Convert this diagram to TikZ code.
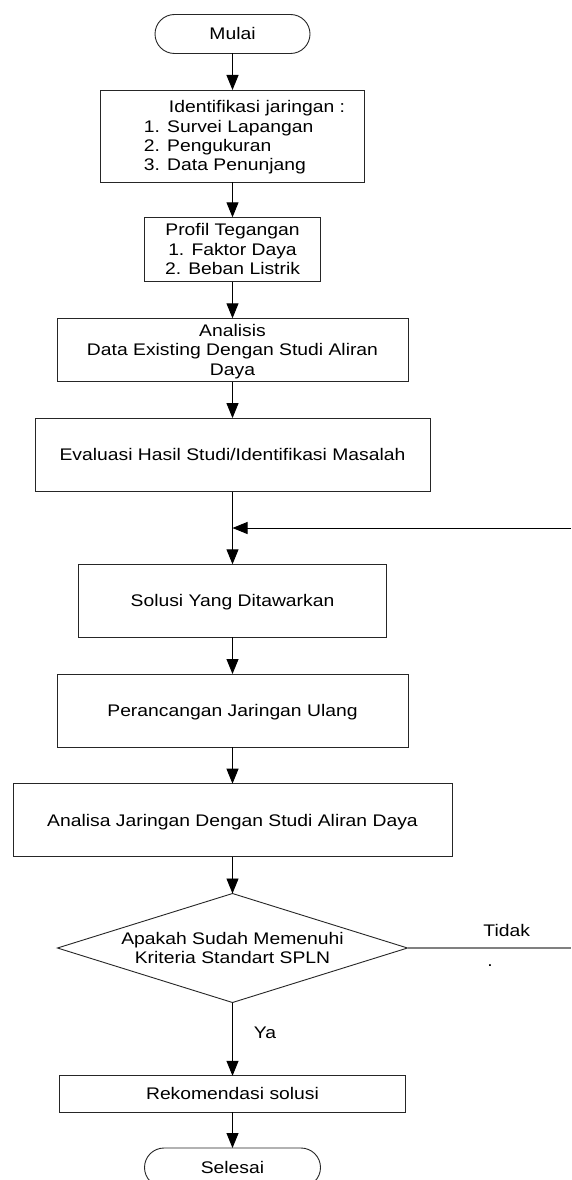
\documentclass[tikz,border=0pt]{standalone}
\usepackage{fontspec}
\setmainfont{Liberation Sans}
\usepackage{graphicx}
\usetikzlibrary{arrows.meta,shapes.geometric}
\newcommand{\tx}[2][c]{\raisebox{-2pt}[\height][\depth]{\scalebox{1.15}[1]{\begin{tabular}{@{}#1@{}}#2\end{tabular}}}}
\begin{document}
\begin{tikzpicture}[x=1pt,y=-1pt,
  font=\fontsize{16.8}{19.4}\selectfont,
  box/.style={draw=black!85, line width=0.9pt, rectangle, inner sep=0pt, outer sep=0pt},
  term/.style={box, rounded corners=19.5pt},
  decision/.style={draw=black!85, line width=0.9pt, diamond, aspect=3.21, inner sep=0pt, outer sep=0pt},
  arr/.style={draw=black, line width=0.9pt, -{Triangle[length=15pt,width=12pt]}},
  noline/.style={draw=black!50, line width=1.3pt},
  lbl/.style={inner sep=0pt}
]
\useasboundingbox (0,0) rectangle (571,1180);
\clip (0,0) rectangle (571,1180);
\fill[white] (0,0) rectangle (571,1180);

\node[term, minimum width=155pt, minimum height=39pt] (mulai) at (232.5,34) {\tx{Mulai}};
\node[box, minimum width=264pt, minimum height=92pt] (b1) at (232.5,136)
  {\hspace*{24pt}\tx[l]{\hspace*{21.7pt}Identifikasi jaringan :\\1. Survei Lapangan\\2. Pengukuran\\3. Data Penunjang}};
\node[box, minimum width=176pt, minimum height=64.4pt] (b2) at (232.5,249.5)
  {\tx{Profil Tegangan\\1. Faktor Daya\\2. Beban Listrik}};
\node[box, minimum width=351pt, minimum height=63.4pt] (b3) at (232.5,350)
  {\tx{Analisis\\Data Existing Dengan Studi Aliran\\Daya}};
\node[box, minimum width=395pt, minimum height=73.4pt] (b4) at (232.5,454.8)
  {\tx{Evaluasi Hasil Studi/Identifikasi Masalah}};
\node[box, minimum width=308pt, minimum height=73pt] (b5) at (232.5,600.8)
  {\tx{Solusi Yang Ditawarkan}};
\node[box, minimum width=351pt, minimum height=73pt] (b6) at (232.5,710.5)
  {\tx{Perancangan Jaringan Ulang}};
\node[box, minimum width=439pt, minimum height=73pt] (b7) at (232.5,820.2)
  {\tx{Analisa Jaringan Dengan Studi Aliran Daya}};
\node[decision, minimum width=350pt, minimum height=109pt] (dia) at (232.5,948)
  {\tx{Apakah Sudah Memenuhi\\Kriteria Standart SPLN}};
\node[box, minimum width=346pt, minimum height=36.3pt] (rek) at (232.5,1094)
  {\tx{Rekomendasi solusi}};
\node[term, minimum width=176pt, minimum height=39pt] (sel) at (232.5,1167.5) {\tx{Selesai}};

\node[lbl] (tidak) at (506.7,931) {\tx{Tidak}};
\node[lbl, anchor=base] (dot) at (490,966.5) {\scalebox{1.15}[1]{.}};
\node[lbl] (ya) at (265,1033) {\tx{Ya}};

\coordinate (fbR) at (571,528);
\coordinate (fbJ) at (232.5,528);
\coordinate (tR) at (571,948);

\draw[arr] (mulai) -- (b1);
\draw[arr] (b1) -- (b2);
\draw[arr] (b2) -- (b3);
\draw[arr] (b3) -- (b4);
\draw[arr] (b4) -- (b5);
\draw[arr] (fbR) -- (fbJ);
\draw[arr] (b5) -- (b6);
\draw[arr] (b6) -- (b7);
\draw[arr] (b7) -- (dia);
\draw[arr] (dia) -- (rek);
\draw[arr] (rek) -- (sel);
\draw[noline] (dia.east) -- (tR);
\end{tikzpicture}
\end{document}
